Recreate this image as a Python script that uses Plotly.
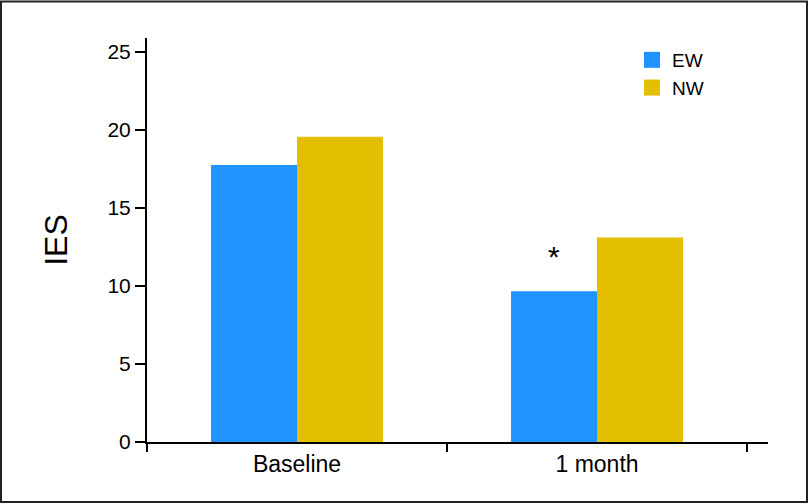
import plotly.graph_objects as go

# data
timepoints = ["Baseline", "1 month"]
ew_scores = [17.75, 9.65]
nw_scores = [19.55, 13.1]
y_ticks = [0, 5, 10, 15, 20, 25]

EW_COLOR = "#1f93ff"
NW_COLOR = "#e4be00"
FONT = "Liberation Sans, Arial, sans-serif"

W, H = 809, 504
L, R, T, B = 147, 41, 38, 62
pw, ph = W - L - R, H - T - B


def px_x(p):
    return (p - L) / pw


def px_y(p):
    return (H - B - p) / ph


fig = go.Figure()

fig.add_trace(go.Bar(x=timepoints, y=ew_scores, name="EW",
                     marker=dict(color=EW_COLOR, line_width=0), showlegend=False))
fig.add_trace(go.Bar(x=timepoints, y=nw_scores, name="NW",
                     marker=dict(color=NW_COLOR, line_width=0), showlegend=False))

# legend-only traces so the swatches can be bigger squares
for name, col in [("EW", EW_COLOR), ("NW", NW_COLOR)]:
    fig.add_trace(go.Scatter(x=[None], y=[None], mode="markers", name=name,
                             marker=dict(symbol="square", size=17, color=col)))

# significance mark over EW at 1 month
fig.add_annotation(x=timepoints[1], y=ew_scores[1], text="*", showarrow=False,
                   xshift=-43, yanchor="bottom", yshift=16,
                   font=dict(size=30, color="black", family=FONT))

# frame around the whole picture
fig.add_shape(type="rect", xref="paper", yref="paper",
              x0=px_x(1), x1=px_x(807), y0=px_y(502), y1=px_y(1.5),
              line=dict(color="#222", width=2), fillcolor="rgba(0,0,0,0)")

fig.update_layout(
    width=W, height=H,
    margin=dict(l=L, r=R, t=T, b=B),
    paper_bgcolor="white", plot_bgcolor="white",
    barmode="group", bargap=0.427, bargroupgap=0,
    font=dict(family=FONT, color="black"),
    legend=dict(x=px_x(632), y=px_y(41), xanchor="left", yanchor="top",
                bgcolor="rgba(0,0,0,0)", font=dict(size=19, family=FONT),
                tracegroupgap=0, itemwidth=30),
    xaxis=dict(range=[-0.5, 1.57], tickson="boundaries", ticks="outside",
               ticklen=8, tickwidth=2, tickcolor="black",
               showline=True, linecolor="black", linewidth=2,
               showgrid=False, zeroline=False,
               tickfont=dict(size=23, family=FONT)),
    yaxis=dict(range=[0, 25.88], tickvals=y_ticks, ticks="outside",
               ticklen=10, tickwidth=2, tickcolor="black",
               showline=True, linecolor="black", linewidth=2,
               showgrid=False, zeroline=False,
               tickfont=dict(size=21, family=FONT),
               title=dict(text="IES", font=dict(size=32, family=FONT), standoff=30)),
)

fig.write_html("out.html", config={"displayModeBar": False},
               post_script="document.body.style.margin='0';")
